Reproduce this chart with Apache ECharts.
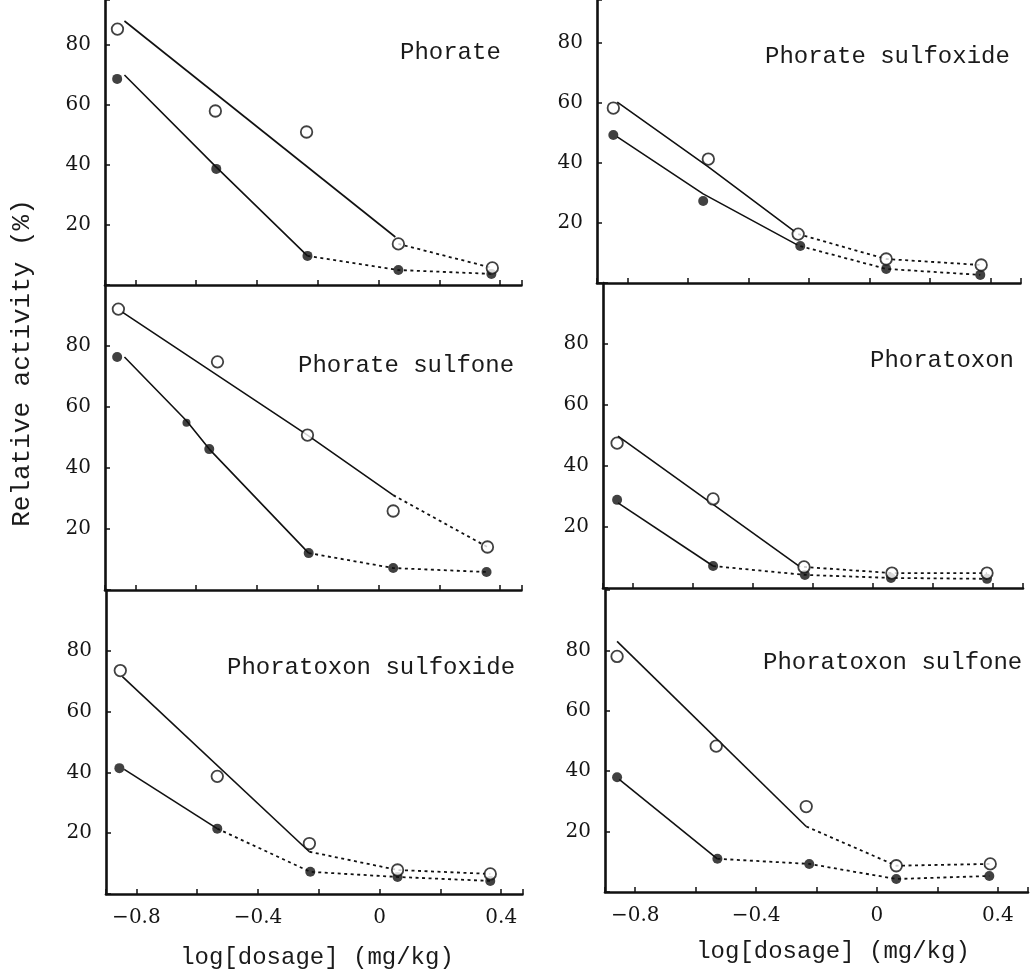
<!DOCTYPE html>
<html><head><meta charset="utf-8">
<script src="https://cdn.jsdelivr.net/npm/echarts@6/dist/echarts.min.js"></script>
<style>html,body{margin:0;padding:0;background:#fff}#c{width:1033px;height:974px}</style>
</head><body><div id="c"></div>
<script>
// ---- data: [log dosage, relative activity %] ----
const panelTitles = ['Phorate','Phorate sulfoxide','Phorate sulfone','Phoratoxon','Phoratoxon sulfoxide','Phoratoxon sulfone'];
const xTickValues = [-0.8, -0.4, 0, 0.4];
const xTickLabels = ['\u22120.8', '\u22120.4', '0', '0.4'];
const yTickValues = [20, 40, 60, 80];
const yAxisTitle = 'Relative activity (%)';
const xAxisTitle = 'log[dosage] (mg/kg)';

// Phorate
const phorateOpen = [[-0.859,85.3],[-0.537,58],[-0.237,51],[0.065,13.7],[0.374,5.7]];
const phorateFilled = [[-0.86,68.7],[-0.534,38.7],[-0.234,9.7],[0.065,5.0],[0.371,3.7]];
const phorateOpenFit = [[-0.836,88],[0.055,16]];
const phorateOpenDots = [[0.065,13.7],[0.374,5.7]];
const phorateFilledFit = [[-0.836,70],[-0.534,39.3],[-0.234,9.7]];
const phorateFilledDots = [[-0.234,9.7],[0.065,5.0],[0.371,3.7]];
// Phorate sulfoxide
const sulfoxideOpen = [[-0.846,58.3],[-0.532,41.3],[-0.235,16.3],[0.056,8],[0.37,6]];
const sulfoxideFilled = [[-0.846,49.3],[-0.549,27.3],[-0.228,12.3],[0.056,4.7],[0.367,2.7]];
const sulfoxideOpenFit = [[-0.833,60.3],[-0.532,38.7],[-0.245,17]];
const sulfoxideOpenDots = [[-0.235,16.3],[0.056,8],[0.37,6]];
const sulfoxideFilledFit = [[-0.833,48.7],[-0.549,29.7],[-0.238,12.7]];
const sulfoxideFilledDots = [[-0.228,12.3],[0.056,4.7],[0.367,2.7]];
// Phorate sulfone
const sulfoneOpen = [[-0.856,92.1],[-0.53,74.8],[-0.234,50.8],[0.048,25.9],[0.358,14.1]];
const sulfoneFilled = [[-0.86,76.4],[-0.557,46.2],[-0.23,12.1],[0.048,7.2],[0.355,5.9]];
const sulfoneFilledSmall = [[-0.632,54.8]];
const sulfoneOpenFit = [[-0.843,91.1],[-0.234,50.8],[0.048,31.1]];
const sulfoneOpenDots = [[0.048,31.1],[0.358,14.1]];
const sulfoneFilledFit = [[-0.836,76.4],[-0.632,55.5],[-0.557,46.2],[-0.23,12.1]];
const sulfoneFilledDots = [[-0.23,12.1],[0.048,7.2],[0.355,5.9]];
// Phoratoxon
const oxonOpen = [[-0.853,47.5],[-0.533,29.2],[-0.23,6.9],[0.063,4.9],[0.38,4.9]];
const oxonFilled = [[-0.853,28.9],[-0.533,7.2],[-0.227,4.3],[0.06,3.3],[0.38,3.0]];
const oxonOpenFit = [[-0.85,49.8],[-0.243,6.9]];
const oxonOpenDots = [[-0.23,6.9],[0.063,4.9],[0.38,4.9]];
const oxonFilledFit = [[-0.85,27.9],[-0.533,7.2]];
const oxonFilledDots = [[-0.533,7.2],[-0.227,4.3],[0.06,3.3],[0.38,3.0]];
// Phoratoxon sulfoxide
const oxonSulfoxideOpen = [[-0.853,73.5],[-0.534,38.7],[-0.231,16.6],[0.059,7.9],[0.364,6.6]];
const oxonSulfoxideFilled = [[-0.856,41.4],[-0.534,21.5],[-0.228,7.3],[0.059,5.6],[0.364,4.3]];
const oxonSulfoxideOpenFit = [[-0.846,71.5],[-0.231,13.9]];
const oxonSulfoxideOpenDots = [[-0.231,13.9],[0.059,7.9],[0.364,6.6]];
const oxonSulfoxideFilledFit = [[-0.84,41],[-0.534,21.5]];
const oxonSulfoxideFilledDots = [[-0.534,21.5],[-0.228,7.3],[0.059,5.6],[0.364,4.3]];
// Phoratoxon sulfone
const oxonSulfoneOpen = [[-0.86,78],[-0.532,48.3],[-0.234,28.3],[0.064,8.7],[0.375,9.3]];
const oxonSulfoneFilled = [[-0.86,38],[-0.528,11],[-0.224,9.3],[0.064,4.3],[0.372,5.3]];
const oxonSulfoneOpenFit = [[-0.86,83],[-0.234,21.7]];
const oxonSulfoneOpenDots = [[-0.234,21.7],[0.064,8.7],[0.375,9.3]];
const oxonSulfoneFilledFit = [[-0.853,37.3],[-0.528,11]];
const oxonSulfoneFilledDots = [[-0.528,11],[-0.224,9.3],[0.064,4.3],[0.372,5.3]];

const panelData = [
  [phorateOpen, phorateFilled, phorateOpenFit, phorateOpenDots, phorateFilledFit, phorateFilledDots, []],
  [sulfoxideOpen, sulfoxideFilled, sulfoxideOpenFit, sulfoxideOpenDots, sulfoxideFilledFit, sulfoxideFilledDots, []],
  [sulfoneOpen, sulfoneFilled, sulfoneOpenFit, sulfoneOpenDots, sulfoneFilledFit, sulfoneFilledDots, sulfoneFilledSmall],
  [oxonOpen, oxonFilled, oxonOpenFit, oxonOpenDots, oxonFilledFit, oxonFilledDots, []],
  [oxonSulfoxideOpen, oxonSulfoxideFilled, oxonSulfoxideOpenFit, oxonSulfoxideOpenDots, oxonSulfoxideFilledFit, oxonSulfoxideFilledDots, []],
  [oxonSulfoneOpen, oxonSulfoneFilled, oxonSulfoneOpenFit, oxonSulfoneOpenDots, oxonSulfoneFilledFit, oxonSulfoneFilledDots, []]
];

// ---- layout (pixels) ----
const layout = [
  {left:105, top:0,   width:416.5, height:285, xMax:0.47, yMax:95,   bottom:false, tx:400, ty:53},
  {left:597, top:0,   width:423.5, height:283, xMax:0.5,  yMax:94.3, bottom:false, tx:765, ty:57},
  {left:105, top:285, width:416.5, height:305, xMax:0.47, yMax:100,  bottom:false, tx:298, ty:366},
  {left:603, top:283, width:420,   height:305, xMax:0.5,  yMax:100,  bottom:false, tx:870, ty:361},
  {left:106, top:590, width:416.5, height:304, xMax:0.47, yMax:100,  bottom:true,  tx:227, ty:668},
  {left:605, top:590, width:423,   height:302, xMax:0.5,  yMax:100,  bottom:true,  tx:763, ty:663}
];

const ink = '#111';
const grids = [], xAxes = [], yAxes = [], series = [], graphics = [];
layout.forEach((L, i) => {
  grids.push({left:L.left, top:L.top, width:L.width, height:L.height, containLabel:false, outerBoundsMode:'none'});
  xAxes.push({
    type:'value', gridIndex:i, min:-0.9, max:L.xMax, splitNumber:7, minInterval:0.2, maxInterval:0.2,
    axisLine:{show:true, onZero:false, lineStyle:{color:ink, width:2.6}},
    axisTick:{show:true, inside:true, length:5, lineStyle:{color:ink, width:1.5}},
    splitLine:{show:false},
    axisLabel:{show:L.bottom, margin:14, color:'#151515', fontFamily:'DejaVu Serif', fontSize:20,
      formatter: v => { const k = xTickValues.findIndex(t => Math.abs(t - v) < 1e-6); return k >= 0 ? xTickLabels[k] : ''; }}
  });
  yAxes.push({
    type:'value', gridIndex:i, min:0, max:L.yMax, interval:20,
    axisLine:{show:true, onZero:false, lineStyle:{color:ink, width:2.6}},
    axisTick:{show:true, inside:true, length:5, lineStyle:{color:ink, width:1.5}},
    splitLine:{show:false},
    axisLabel:{margin:14, color:'#151515', fontFamily:'DejaVu Serif', fontSize:20,
      formatter: v => yTickValues.includes(v) ? String(v) : ''}
  });
  const [op, fi, opFit, opDots, fiFit, fiDots, fiSmall] = panelData[i];
  const solid = {color:ink, width:1.6};
  const dotted = {color:ink, width:1.8, type:[3,3.5]};
  [[opFit, solid], [opDots, dotted], [fiFit, solid], [fiDots, dotted]].forEach(([d, ls]) => {
    series.push({type:'line', xAxisIndex:i, yAxisIndex:i, data:d, symbol:'none', lineStyle:ls, z:2, silent:true});
  });
  series.push({type:'scatter', xAxisIndex:i, yAxisIndex:i, data:fi, symbol:'circle', symbolSize:10,
    itemStyle:{color:ink}, z:4});
  if (fiSmall.length) series.push({type:'scatter', xAxisIndex:i, yAxisIndex:i, data:fiSmall, symbol:'circle', symbolSize:8,
    itemStyle:{color:ink}, z:4});
  series.push({type:'scatter', xAxisIndex:i, yAxisIndex:i, data:op, symbol:'circle', symbolSize:11.5,
    itemStyle:{color:'#fff', borderColor:ink, borderWidth:1.8}, z:5});
  graphics.push({type:'text', x:L.tx, y:L.ty, z:10,
    style:{text:panelTitles[i], font:'24px "Liberation Mono"', fill:'#1a1a1a', verticalAlign:'middle', align:'left'}});
});
graphics.push({type:'text', x:22, y:363, rotation:Math.PI/2, z:10,
  style:{text:yAxisTitle, font:'26px "Liberation Mono"', fill:'#1a1a1a', align:'center', verticalAlign:'middle'}});
graphics.push({type:'text', x:317, y:958, z:10,
  style:{text:xAxisTitle, font:'24px "Liberation Mono"', fill:'#1a1a1a', align:'center', verticalAlign:'middle'}});
graphics.push({type:'text', x:833, y:952, z:10,
  style:{text:xAxisTitle, font:'24px "Liberation Mono"', fill:'#1a1a1a', align:'center', verticalAlign:'middle'}});

const chart = echarts.init(document.getElementById('c'), null, {renderer:'canvas'});
chart.setOption({
  animation:false, backgroundColor:'#fff',
  grid:grids, xAxis:xAxes, yAxis:yAxes, series:series, graphic:graphics
});
</script></body></html>
